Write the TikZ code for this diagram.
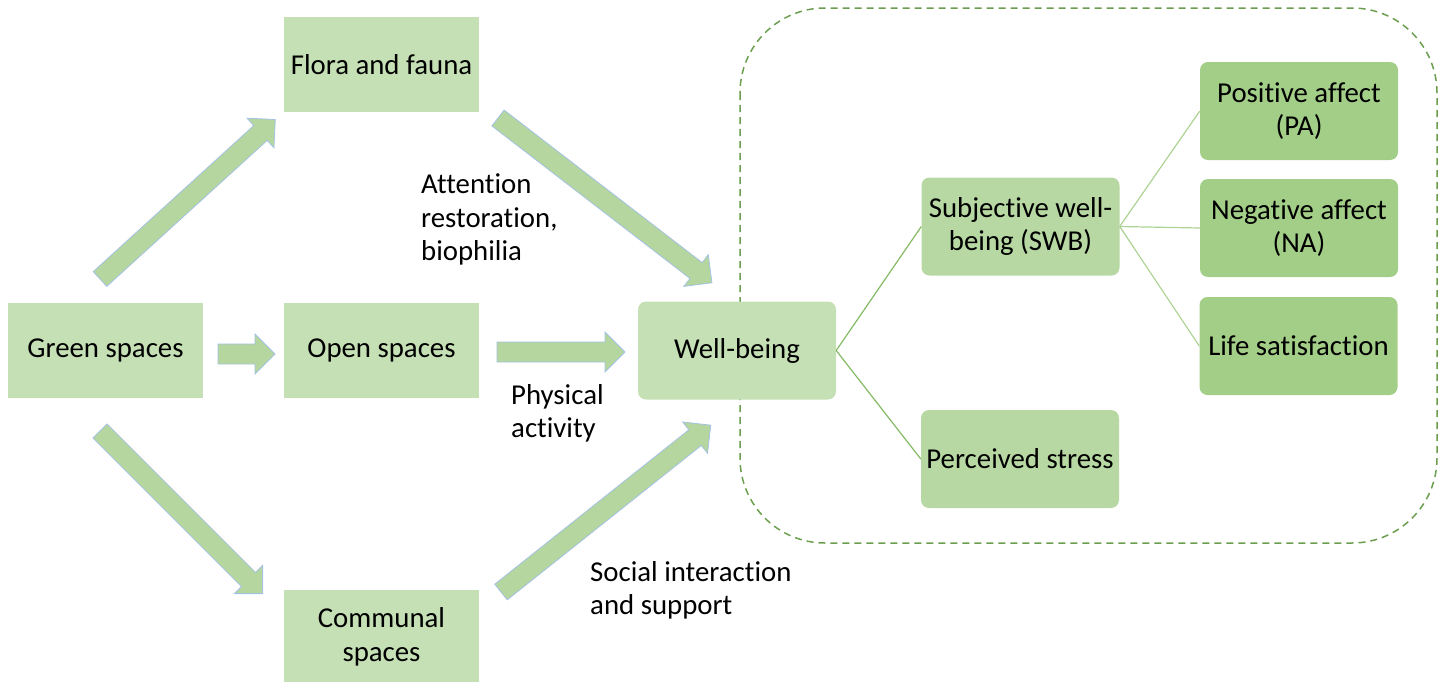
\documentclass[tikz,border=0pt]{standalone}
\usepackage{fontspec}
\setmainfont{Carlito}[Ligatures=NoCommon]
\usetikzlibrary{positioning}
\definecolor{boxA}{HTML}{C5E0B4}
\definecolor{boxB}{HTML}{B7D8A2}
\definecolor{boxC}{HTML}{A3CE87}
\definecolor{arrfill}{HTML}{B5D69E}
\definecolor{arrline}{HTML}{A4C2E4}
\definecolor{dashgreen}{HTML}{6B9E4F}
\definecolor{lineA}{HTML}{85BA64}
\definecolor{lineB}{HTML}{ADD394}
\newcommand{\blockarr}[3]{%
  \begin{scope}[shift={(#1)}, rotate=#2]
    \draw[barrow] (0,-10) -- (#3-20,-10) -- (#3-20,-20) -- (#3,0) -- (#3-20,20) -- (#3-20,10) -- (0,10) -- cycle;
  \end{scope}}
\begin{document}
\begin{tikzpicture}[x=1pt,y=-1pt,
  every node/.style={font=\fontsize{28.8}{33.5}\selectfont, text=black},
  sqbox/.style={fill=boxA, minimum width=195pt, minimum height=95pt, align=center, inner sep=2pt},
  rbox/.style={fill=#1, rounded corners=8pt, minimum width=198pt, minimum height=98pt, align=center, inner sep=2pt},
  lbl/.style={anchor=west, align=left, inner sep=0pt},
  barrow/.style={fill=arrfill, draw=arrline, line width=0.8pt, line join=miter},
  linkA/.style={draw=lineA, line width=1.2pt},
  linkB/.style={draw=lineB, line width=1.2pt}]
\useasboundingbox (0,0) rectangle (1443,681);
% dashed frame
\draw[dashgreen, dashed, dash pattern=on 7pt off 5pt, line width=1.5pt, rounded corners=85pt] (740,8) rectangle (1437,543);
% boxes
\node[sqbox] (gs) at (105.5,350.5) {Green spaces};
\node[sqbox] (ff) at (381.5,64.5) {Flora and fauna};
\node[sqbox] (os) at (381.5,350.5) {Open spaces};
\node[sqbox, minimum height=95pt] (cs) at (381.5,637) {Communal\\spaces};
\node[rbox=boxA] (wb) at (737,350.5) {Well-being};
\node[rbox=boxB] (swb) at (1020.5,226.5) {Subjective well-\\being (SWB)};
\node[rbox=boxB] (ps) at (1020,459) {Perceived stress};
\node[rbox=boxC] (pa) at (1299,111) {Positive affect\\(PA)};
\node[rbox=boxC] (na) at (1299,228) {Negative affect\\(NA)};
\node[rbox=boxC] (ls) at (1298.5,346) {Life satisfaction};
% labels
\node[lbl] (l1) at (421,219.5) {Attention\\restoration,\\biophilia};
\node[lbl] (l2) at (511,413.5) {Physical\\activity};
\node[lbl] (l3) at (590,590.5) {Social interaction\\and support};
% block arrows
\coordinate (t1) at (100,279);
\coordinate (t2) at (498,118);
\coordinate (t3) at (218,354);
\coordinate (t4) at (497,352);
\coordinate (t5) at (100,431);
\coordinate (t6) at (501,592);
\blockarr{t1}{42.3}{237}
\blockarr{t2}{-37.6}{270}
\blockarr{t3}{0}{57}
\blockarr{t4}{0}{128}
\blockarr{t5}{-45}{230}
\blockarr{t6}{38.5}{268}
% tree links
\draw[linkA] (wb.east) -- (swb.west);
\draw[linkA] (wb.east) -- (ps.west);
\draw[linkB] (swb.east) -- (pa.west);
\draw[linkB] (swb.east) -- (na.west);
\draw[linkB] (swb.east) -- (ls.west);
\end{tikzpicture}
\end{document}
